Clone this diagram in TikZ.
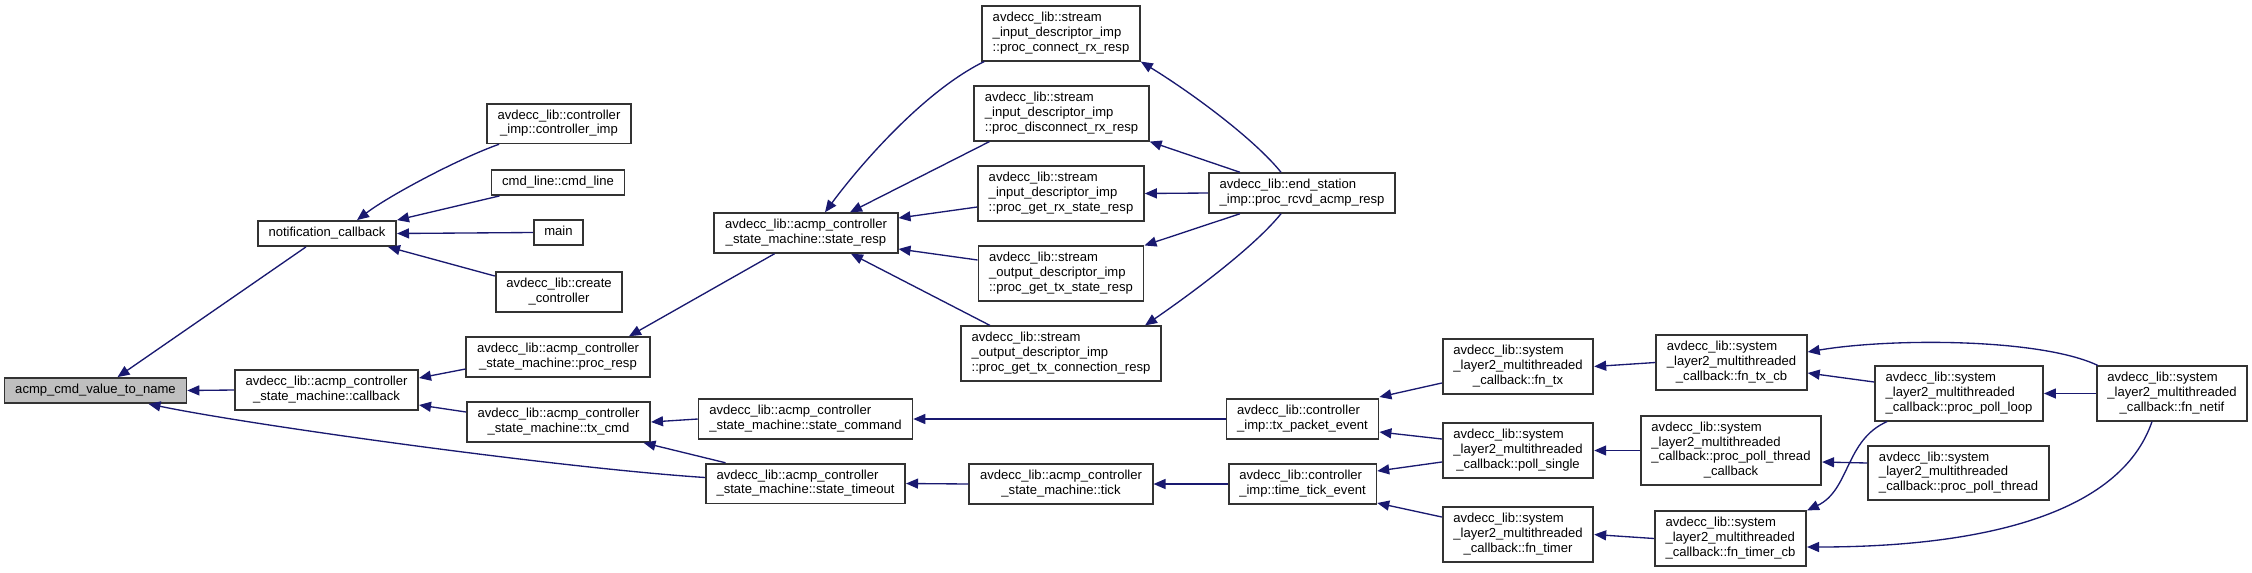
\documentclass[tikz,border=0pt]{standalone}
\usepackage{fontspec}
\setmainfont{Liberation Sans}
\usetikzlibrary{positioning, arrows.meta, calc}

\definecolor{edgeblue}{HTML}{191970}
\definecolor{rootgray}{HTML}{BFBFBF}

\newcommand{\oneline}[1]{\begin{tabular}{@{}c@{}}#1\end{tabular}}
\newcommand{\twoline}[2]{\begin{tabular}{@{}l@{}}#1\\\multicolumn{1}{@{}c@{}}{#2}\end{tabular}}
\newcommand{\threeline}[3]{\begin{tabular}{@{}l@{}}#1\\#2\\\multicolumn{1}{@{}c@{}}{#3}\end{tabular}}
\newcommand{\fourline}[4]{\begin{tabular}{@{}l@{}}#1\\#2\\#3\\\multicolumn{1}{@{}c@{}}{#4}\end{tabular}}

\begin{document}
\begin{tikzpicture}[
        x=0.75pt, y=-0.75pt,
        fn/.style={draw=black!80, line width=1.3pt, fill=white, inner xsep=8pt, inner ysep=3.9pt, font=\fontsize{9.8}{11}\selectfont},
        root/.style={fn, fill=rootgray},
        call/.style={draw=edgeblue, line width=1pt, -{Triangle[length=9pt, width=7.5pt]}}
    ]
    \useasboundingbox (0,0) rectangle (2252,572);

    \node[root] (acmp) at (95.5,390.5) {\oneline{acmp\_cmd\_value\_to\_name}};

    \node[fn] (notif) at (327,233.5) {\oneline{notification\_callback}};
    \node[fn] (callback) at (326.5,390) {\twoline{avdecc\_lib::acmp\_controller}{\_state\_machine::callback}};

    \node[fn] (ctrlimp) at (559,123.5) {\twoline{avdecc\_lib::controller}{\_imp::controller\_imp}};
    \node[fn] (cmdline) at (558,182.5) {\oneline{cmd\_line::cmd\_line}};
    \node[fn] (main) at (558.5,232.5) {\oneline{main}};
    \node[fn] (createctrl) at (559,292) {\twoline{avdecc\_lib::create}{\_controller}};
    \node[fn] (procresp) at (558,357) {\twoline{avdecc\_lib::acmp\_controller}{\_state\_machine::proc\_resp}};
    \node[fn] (txcmd) at (558.5,422) {\twoline{avdecc\_lib::acmp\_controller}{\_state\_machine::tx\_cmd}};

    \node[fn] (stateresp) at (806,233) {\twoline{avdecc\_lib::acmp\_controller}{\_state\_machine::state\_resp}};
    \node[fn] (statecmd) at (805.5,419) {\twoline{avdecc\_lib::acmp\_controller}{\_state\_machine::state\_command}};
    \node[fn] (statetimeout) at (805.5,483.5) {\twoline{avdecc\_lib::acmp\_controller}{\_state\_machine::state\_timeout}};

    \node[fn] (connrx) at (1061,33.5) {\threeline{avdecc\_lib::stream}{\_input\_descriptor\_imp}{::proc\_connect\_rx\_resp}};
    \node[fn] (disconnrx) at (1061.5,113.5) {\threeline{avdecc\_lib::stream}{\_input\_descriptor\_imp}{::proc\_disconnect\_rx\_resp}};
    \node[fn] (getrx) at (1061,193.5) {\threeline{avdecc\_lib::stream}{\_input\_descriptor\_imp}{::proc\_get\_rx\_state\_resp}};
    \node[fn] (gettx) at (1061,273.5) {\threeline{avdecc\_lib::stream}{\_output\_descriptor\_imp}{::proc\_get\_tx\_state\_resp}};
    \node[fn] (gettxconn) at (1061,353.5) {\threeline{avdecc\_lib::stream}{\_output\_descriptor\_imp}{::proc\_get\_tx\_connection\_resp}};
    \node[fn] (tick) at (1061,484) {\twoline{avdecc\_lib::acmp\_controller}{\_state\_machine::tick}};

    \node[fn] (endstation) at (1302,193) {\twoline{avdecc\_lib::end\_station}{\_imp::proc\_rcvd\_acmp\_resp}};
    \node[fn] (txpacket) at (1302.5,419) {\twoline{avdecc\_lib::controller}{\_imp::tx\_packet\_event}};
    \node[fn] (timetick) at (1302.5,484) {\twoline{avdecc\_lib::controller}{\_imp::time\_tick\_event}};

    \node[fn] (fntx) at (1518,366.5) {\threeline{avdecc\_lib::system}{\_layer2\_multithreaded}{\_callback::fn\_tx}};
    \node[fn] (pollsingle) at (1518,450.5) {\threeline{avdecc\_lib::system}{\_layer2\_multithreaded}{\_callback::poll\_single}};
    \node[fn] (fntimer) at (1518,534.5) {\threeline{avdecc\_lib::system}{\_layer2\_multithreaded}{\_callback::fn\_timer}};

    \node[fn] (fntxcb) at (1731.5,362.5) {\threeline{avdecc\_lib::system}{\_layer2\_multithreaded}{\_callback::fn\_tx\_cb}};
    \node[fn] (pollthreadcb) at (1731,450.5) {\fourline{avdecc\_lib::system}{\_layer2\_multithreaded}{\_callback::proc\_poll\_thread}{\_callback}};
    \node[fn] (fntimercb) at (1730.5,538.5) {\threeline{avdecc\_lib::system}{\_layer2\_multithreaded}{\_callback::fn\_timer\_cb}};

    \node[fn] (pollloop) at (1959,393.5) {\threeline{avdecc\_lib::system}{\_layer2\_multithreaded}{\_callback::proc\_poll\_loop}};
    \node[fn] (pollthread) at (1958.5,473) {\threeline{avdecc\_lib::system}{\_layer2\_multithreaded}{\_callback::proc\_poll\_thread}};

    \node[fn] (fnnetif) at (2172,393.5) {\threeline{avdecc\_lib::system}{\_layer2\_multithreaded}{\_callback::fn\_netif}};

    \draw[call] ($(notif.south)+(-21,0)$) -- ($(acmp.north)+(22,0)$);
    \draw[call] (callback.west) -- (acmp.east);
    \draw[call] ($(statetimeout.west)+(0,-6)$) .. controls (560,468) and (250,425) .. ($(acmp.south)+(53,0)$);

    \draw[call] ($(ctrlimp.south west)+(13,0)$) .. controls (460,158) and (390,195) .. ($(notif.north)+(30,0)$);
    \draw[call] ($(cmdline.south west)+(9,0)$) -- (notif.north east);
    \draw[call] (main.west) -- (notif.east);
    \draw[call] ($(createctrl.west)+(0,-16)$) -- ($(notif.south east)+(-9,0)$);
    \draw[call] ($(procresp.west)+(0,12)$) -- ($(callback.east)+(0,-12)$);
    \draw[call] ($(txcmd.west)+(0,-10)$) -- ($(callback.east)+(0,15)$);

    \draw[call] ($(stateresp.south)+(-31.5,0)$) -- ($(procresp.north)+(71,0)$);
    \draw[call] (statecmd.west) -- (txcmd.east);
    \draw[call] ($(statetimeout.north)+(-80,0)$) -- ($(txcmd.south)+(85,0)$);

    \draw[call] ($(connrx.south west)+(3,0)$) .. controls (924,91) and (860,165) .. ($(stateresp.north)+(19,0)$);
    \draw[call] ($(disconnrx.south)+(-72,0)$) -- ($(stateresp.north)+(44,0)$);
    \draw[call] ($(getrx.west)+(0,13.5)$) -- ($(stateresp.east)+(0,-15)$);
    \draw[call] ($(gettx.west)+(0,-13.5)$) -- ($(stateresp.east)+(0,16)$);
    \draw[call] ($(gettxconn.north)+(-71,0)$) -- ($(stateresp.south)+(45,0)$);
    \draw[call] (tick.west) -- (statetimeout.east);

    \draw[call] ($(endstation.north)+(-21,0)$) .. controls (1255,140) and (1195,95) .. (connrx.south east);
    \draw[call] ($(endstation.north)+(-62,0)$) -- (disconnrx.south east);
    \draw[call] (endstation.west) -- (getrx.east);
    \draw[call] ($(endstation.south)+(-62,0)$) -- (gettx.north east);
    \draw[call] ($(endstation.south)+(-21,0)$) .. controls (1255,246) and (1195,291) .. ($(gettxconn.north)+(84,0)$);
    \draw[call] (txpacket.west) -- (statecmd.east);
    \draw[call] (timetick.west) -- (tick.east);

    \draw[call] ($(fntx.west)+(0,16.5)$) -- ($(txpacket.east)+(0,-22)$);
    \draw[call] ($(pollsingle.west)+(0,-11.5)$) -- ($(txpacket.east)+(0,13)$);
    \draw[call] ($(pollsingle.west)+(0,11.5)$) -- ($(timetick.east)+(0,-13)$);
    \draw[call] ($(fntimer.west)+(0,-17.5)$) -- ($(timetick.east)+(0,19)$);

    \draw[call] (fntxcb.west) -- (fntx.east);
    \draw[call] (pollthreadcb.west) -- (pollsingle.east);
    \draw[call] (fntimercb.west) -- (fntimer.east);

    \draw[call] ($(pollloop.west)+(0,-11.5)$) -- ($(fntxcb.east)+(0,10.5)$);
    \draw[call] ($(pollloop.south west)+(13,0)$) .. controls (1845,440) and (1850,490) .. (fntimercb.north east);
    \draw[call] ($(pollthread.west)+(0,-10)$) -- ($(pollthreadcb.east)+(0,11.5)$);

    \draw[call] ($(fnnetif.north west)+(2,0)$) .. controls (2040,338) and (1890,338) .. ($(fntxcb.east)+(0,-10.5)$);
    \draw[call] (fnnetif.west) -- (pollloop.east);
    \draw[call] ($(fnnetif.south)+(-20,0)$) .. controls (2120,515) and (1980,547) .. ($(fntimercb.east)+(0,8.5)$);

\end{tikzpicture}
\end{document}
